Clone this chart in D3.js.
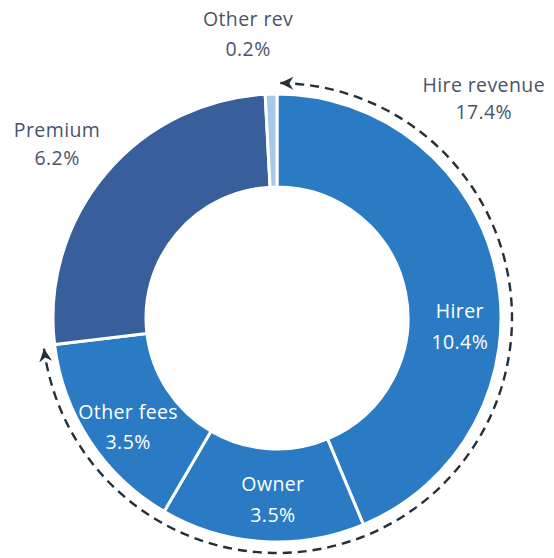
<!DOCTYPE html>
<html><head><meta charset="utf-8">
<script src="https://cdn.jsdelivr.net/npm/d3@7"></script>
<style>
html,body{margin:0;padding:0;background:#fff;}
svg{display:block;font-family:"Open Sans","Noto Sans",sans-serif;}
</style></head>
<body>
<svg id="chart" width="554" height="558"></svg>
<script>
// ---- data ----
const categories = ["Hirer", "Owner", "Other fees", "Premium", "Other rev"];
const values = [10.4, 3.5, 3.5, 6.2, 0.2];
const valueLabels = ["10.4%", "3.5%", "3.5%", "6.2%", "0.2%"];
const groupName = "Hire revenue";
const groupMembers = ["Hirer", "Owner", "Other fees"];
const groupLabel = "17.4%";

// ---- layout / style ----
const W = 554, H = 558;
const cx = 277, cy = 318;
const rOuter = 224, rInner = 131;
const colors = {"Hirer":"#2b7bc4","Owner":"#2b7bc4","Other fees":"#2b7bc4","Premium":"#385f9b","Other rev":"#a7c8ec"};
const inside = {"Hirer":true,"Owner":true,"Other fees":true,"Premium":false,"Other rev":false};
// label placement: [angle (deg, clockwise from top), radius, line gap]
const labelPlace = {"Hirer":[92.5,183,31],"Owner":[181.3,181,31],"Other fees":[234,184,30],
                    "Premium":[308.5,281,28],"Other rev":[354.2,286,30]};
const groupPlace = [43.2, 302, 27.5];
const fontSize = "19.5px";

const data = categories.map((c,i)=>({name:c, value:values[i], label:valueLabels[i]}));
const svg = d3.select("#chart");
const g = svg.append("g").attr("transform",`translate(${cx},${cy})`);

const pie = d3.pie().sort(null).value(d=>d.value).startAngle(0).endAngle(2*Math.PI);
const arcs = pie(data);
const arc = d3.arc().innerRadius(rInner).outerRadius(rOuter);

g.selectAll("path.slice").data(arcs).join("path")
  .attr("class","slice")
  .attr("d",arc)
  .attr("fill",d=>colors[d.data.name])
  .attr("stroke","#fff").attr("stroke-width",3).attr("stroke-linejoin","miter");

// dashed group arc
const member = arcs.filter(a=>groupMembers.includes(a.data.name));
const a0 = d3.min(member,a=>a.startAngle) + 0.014;
const a1 = d3.max(member,a=>a.endAngle) - 0.012;
const rDash = 235;
const pt = (a,r)=>[r*Math.sin(a), -r*Math.cos(a)];
const defs = svg.append("defs");
defs.append("marker").attr("id","arrow")
  .attr("viewBox","-14 -7 15 14").attr("refX",0).attr("refY",0)
  .attr("markerWidth",15).attr("markerHeight",14).attr("markerUnits","userSpaceOnUse")
  .attr("orient","auto-start-reverse")
  .append("path").attr("d","M0,0 L-13,-6.5 L-9,0 L-13,6.5 Z").attr("fill","#243038");
const p0 = pt(a0,rDash), p1 = pt(a1,rDash);
const large = (a1-a0) > Math.PI ? 1 : 0;
g.append("path")
  .attr("d",`M${p0[0]},${p0[1]} A${rDash},${rDash} 0 ${large} 1 ${p1[0]},${p1[1]}`)
  .attr("fill","none").attr("stroke","#243038").attr("stroke-width",2.4)
  .attr("stroke-dasharray","9,6")
  .attr("marker-start","url(#arrow)").attr("marker-end","url(#arrow)");

// labels
function twoLine(sel, name, val, place, color){
  const a = place[0]*Math.PI/180, r = place[1], gap = place[2];
  const [x,y] = pt(a,r);
  const t = sel.append("g").attr("transform",`translate(${x},${y})`);
  t.append("text").attr("text-anchor","middle").attr("dy",-gap/2).attr("dominant-baseline","central")
    .attr("fill",color).style("font-size",fontSize).style("letter-spacing","0.4px").text(name);
  t.append("text").attr("text-anchor","middle").attr("dy",gap/2).attr("dominant-baseline","central")
    .attr("fill",color).style("font-size",fontSize).style("letter-spacing","0.4px").text(val);
}
arcs.forEach(a=>{
  const n = a.data.name;
  twoLine(g, n, a.data.label, labelPlace[n], inside[n] ? "#ffffff" : "#4a5568");
});
twoLine(g, groupName, groupLabel, groupPlace, "#4a5568");
</script>
</body></html>
